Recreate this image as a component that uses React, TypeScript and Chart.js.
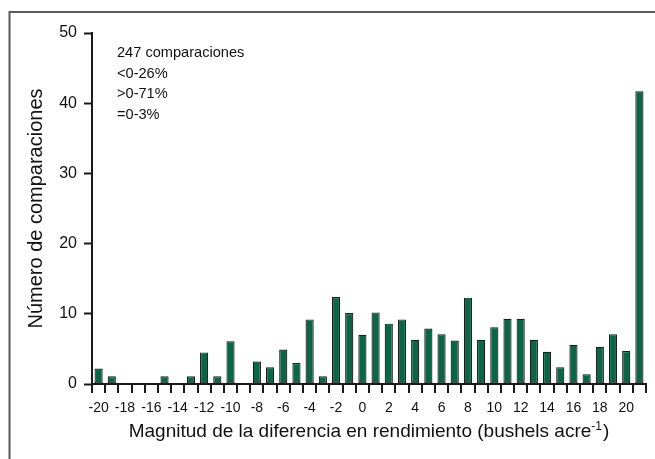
import { useEffect, useRef } from 'react';
import { Chart, registerables } from 'chart.js';

Chart.register(...registerables);

// ---- data ----
const categories: number[] = [
  -20, -19, -18, -17, -16, -15, -14, -13, -12, -11, -10, -9, -8, -7, -6, -5, -4, -3, -2, -1,
  0, 1, 2, 3, 4, 5, 6, 7, 8, 9, 10, 11, 12, 13, 14, 15, 16, 17, 18, 19, 20, 21,
];
const counts: number[] = [
  2.2, 1.1, 0, 0, 0, 1.1, 0, 1.1, 4.5, 1.1, 6.1, 0, 3.2, 2.4, 4.9, 3.0, 9.2, 1.1, 12.4, 10.1,
  7.0, 10.2, 8.6, 9.2, 6.3, 7.9, 7.1, 6.2, 12.3, 6.3, 8.1, 9.3, 9.3, 6.3, 4.6, 2.4, 5.6, 1.4, 5.3, 7.1, 4.7, 41.7,
];
const yMin = 0;
const yMax = 50;
const yStep = 10;
const annotationLines: string[] = ['247 comparaciones', '<0-26%', '>0-71%', '=0-3%'];
const yTitle = 'Número de comparaciones';
const xTitleMain = 'Magnitud de la diferencia en rendimiento (bushels acre';
const xTitleSup = '-1';
const xTitleEnd = ')';

const SANS = "'Liberation Sans', Arial, Helvetica, sans-serif";
const INK = '#1a1a1a';

const framePlugin = {
  id: 'frame',
  beforeDraw(chart: any) {
    const ctx = chart.ctx;
    ctx.save();
    ctx.strokeStyle = '#5a5a5a';
    ctx.lineWidth = 2;
    ctx.beginPath();
    ctx.moveTo(9.5, chart.height);
    ctx.lineTo(9.5, 12);
    ctx.lineTo(chart.width, 12);
    ctx.stroke();
    ctx.restore();
  },
};

const textPlugin = {
  id: 'texts',
  afterDraw(chart: any) {
    const ctx = chart.ctx;
    const area = chart.chartArea;
    ctx.save();
    ctx.fillStyle = '#111';
    ctx.textBaseline = 'alphabetic';
    ctx.textAlign = 'left';
    // annotation block
    ctx.font = `14.6px ${SANS}`;
    annotationLines.forEach((line, i) => {
      ctx.fillText(line, area.left + 25, area.top + 24 + i * 20.7);
    });
    // x axis title with superscript
    const mainFont = `19px ${SANS}`;
    const supFont = `12px ${SANS}`;
    ctx.font = mainFont;
    const wMain = ctx.measureText(xTitleMain).width;
    const wEnd = ctx.measureText(xTitleEnd).width;
    ctx.font = supFont;
    const wSup = ctx.measureText(xTitleSup).width;
    const total = wMain + wSup + wEnd + 1;
    const cx = (area.left + area.right) / 2;
    let x = cx - total / 2;
    const baseY = chart.height - 22;
    ctx.font = mainFont;
    ctx.fillText(xTitleMain, x, baseY);
    x += wMain;
    ctx.font = supFont;
    ctx.fillText(xTitleSup, x, baseY - 7);
    x += wSup + 1;
    ctx.font = mainFont;
    ctx.fillText(xTitleEnd, x, baseY);
    ctx.restore();
  },
};

export default function App() {
  const canvasRef = useRef<HTMLCanvasElement | null>(null);

  useEffect(() => {
    const canvas = canvasRef.current;
    if (!canvas) return;
    const chart = new Chart(canvas, {
      type: 'bar',
      data: {
        labels: categories.map(String),
        datasets: [
          {
            data: counts,
            backgroundColor: '#0a6647',
            borderColor: '#1e1e1e',
            borderWidth: 1.2,
            borderSkipped: false,
            barPercentage: 0.62,
            categoryPercentage: 1,
          },
        ],
      },
      options: {
        responsive: false,
        devicePixelRatio: 1,
        animation: false,
        events: [],
        layout: { padding: { top: 33, right: 9, bottom: 0, left: 0 } },
        plugins: {
          legend: { display: false },
          tooltip: { enabled: false },
          title: { display: false },
        },
        scales: {
          x: {
            type: 'category',
            offset: true,
            grid: {
              offset: true,
              drawOnChartArea: false,
              drawTicks: true,
              tickLength: 9,
              tickWidth: 2,
              tickColor: INK,
              lineWidth: 2,
              color: INK,
            },
            border: { display: true, color: INK, width: 2 },
            ticks: {
              autoSkip: false,
              maxRotation: 0,
              minRotation: 0,
              padding: 7,
              color: '#111',
              font: { family: SANS, size: 14 },
              callback: (_v: any, index: number) => {
                const c = categories[index];
                return c % 2 === 0 && c <= 20 ? String(c) : '';
              },
            },
            afterFit: (scale: any) => {
              scale.height = 75;
            },
          },
          y: {
            min: yMin,
            max: yMax,
            grid: {
              drawOnChartArea: false,
              drawTicks: true,
              tickLength: 8,
              tickWidth: 2,
              tickColor: INK,
              color: INK,
            },
            border: { display: true, color: INK, width: 2 },
            ticks: {
              stepSize: yStep,
              padding: 7,
              color: '#111',
              font: { family: SANS, size: 16 },
            },
            title: {
              display: true,
              text: yTitle,
              color: '#111',
              font: { family: SANS, size: 20 },
              padding: { top: 24, bottom: 0 },
            },
            afterFit: (scale: any) => {
              scale.width = 92;
            },
          },
        },
      },
      plugins: [framePlugin, textPlugin],
    });
    return () => chart.destroy();
  }, []);

  return (
    <div style={{ position: 'absolute', left: 0, top: 0, width: 655, height: 459, background: '#fff' }}>
      <canvas ref={canvasRef} width={655} height={459} style={{ display: 'block' }} />
    </div>
  );
}
